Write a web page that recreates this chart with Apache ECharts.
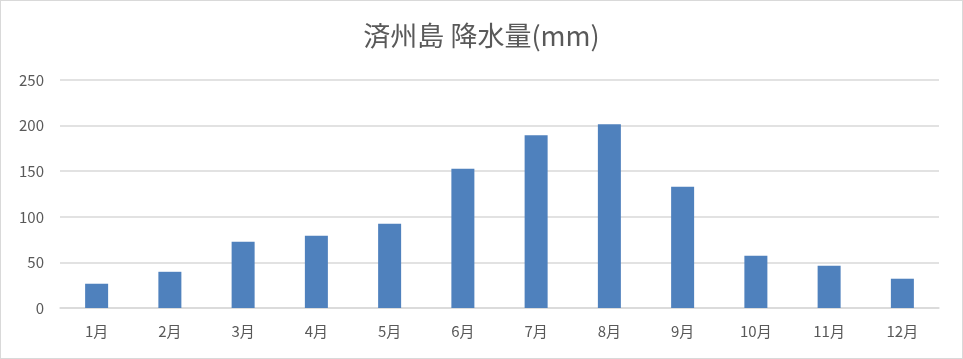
<!DOCTYPE html>
<html>
<head>
<meta charset="utf-8">
<script src="https://cdn.jsdelivr.net/npm/echarts@6/dist/echarts.min.js"></script>
<style>
html,body{margin:0;padding:0;background:#fff;}
#c{position:absolute;left:0;top:0;width:961px;height:357px;border:1px solid #d9d9d9;background:#fff;}
</style>
</head>
<body>
<div id="c"></div>
<script>
const titleText = '済州島 降水量(mm)';
const categories = ['1月','2月','3月','4月','5月','6月','7月','8月','9月','10月','11月','12月'];
const rainfall = [26.6, 39.7, 72.6, 79.2, 92.3, 152.6, 189.4, 201.4, 132.9, 57.3, 46.3, 32.1];
const yTicks = { min: 0, max: 250, interval: 50 };

const chart = echarts.init(document.getElementById('c'), null, {renderer: 'canvas'});
const font = '"Noto Sans CJK JP", "Noto Sans", sans-serif';
chart.setOption({
  animation: false,
  title: {
    text: titleText,
    left: 'center',
    top: 16,
    textStyle: { fontFamily: font, fontSize: 27, fontWeight: 'normal', color: '#595959' }
  },
  grid: { left: 59, right: 23, top: 79, bottom: 50, containLabel: false },
  xAxis: {
    type: 'category',
    data: categories,
    axisLine: { lineStyle: { color: '#d9d9d9', width: 1.5 } },
    axisTick: { show: false },
    axisLabel: { color: '#595959', fontFamily: font, fontSize: 15, margin: 16 }
  },
  yAxis: {
    type: 'value',
    min: yTicks.min, max: yTicks.max, interval: yTicks.interval,
    axisLine: { show: false },
    axisTick: { show: false },
    axisLabel: { color: '#595959', fontFamily: font, fontSize: 15, margin: 16 },
    splitLine: { lineStyle: { color: '#d9d9d9', width: 1.5 } }
  },
  series: [{
    type: 'bar',
    data: rainfall,
    barWidth: 23,
    itemStyle: { color: '#4f81bd' }
  }]
});
</script>
</body>
</html>
